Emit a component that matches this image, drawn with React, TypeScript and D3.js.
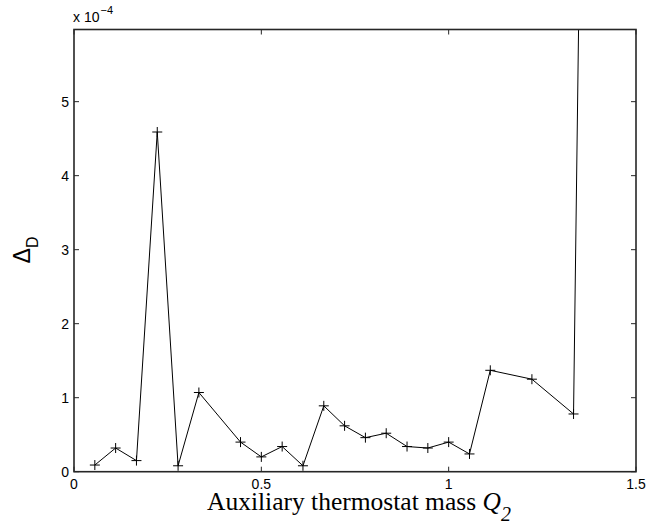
import React from "react";
import * as d3 from "d3";

// Auxiliary thermostat mass Q2
const q2Values = [
  0.0556, 0.1111, 0.1667, 0.2222, 0.2778, 0.3333, 0.4444, 0.5, 0.5556, 0.6111,
  0.6667, 0.7222, 0.7778, 0.8333, 0.8889, 0.9444, 1.0, 1.0556, 1.1111, 1.2222,
  1.3333, 1.4444,
];
// Delta_D in units of 1e-4
const deltaD = [
  0.09, 0.32, 0.15, 4.59, 0.08, 1.07, 0.4, 0.2, 0.34, 0.08,
  0.89, 0.62, 0.46, 0.52, 0.34, 0.32, 0.4, 0.24, 1.37, 1.25,
  0.78, 44,
];
const xTicks = [0, 0.5, 1, 1.5];
const xTickLabels = ["0", "0.5", "1", "1.5"];
const yTicks = [0, 1, 2, 3, 4, 5];
const yTickLabels = ["0", "1", "2", "3", "4", "5"];

const W = 648;
const H = 527;
const left = 74;
const right = 636;
const top = 29.5;
const bottom = 471.7;

export default function App() {
  const x = d3.scaleLinear().domain([0, 1.5]).range([left, right]);
  const y = d3.scaleLinear().domain([0, 5.975]).range([bottom, top]);
  const pts = q2Values.map((q, i) => [q, deltaD[i]] as [number, number]);
  const line = d3
    .line<[number, number]>()
    .x((d) => x(d[0]))
    .y((d) => y(d[1]));
  const tickLen = 5;
  const sans = "'Liberation Sans', Arial, Helvetica, sans-serif";
  const serif = "'Liberation Serif', 'Times New Roman', serif";
  const axisColor = "#262626";
  const m = 5;
  return (
    <svg
      width={W}
      height={H}
      style={{ position: "absolute", left: 0, top: 0, background: "#fff" }}
    >
      <defs>
        <clipPath id="plotclip">
          <rect x={left} y={top} width={right - left} height={bottom - top} />
        </clipPath>
      </defs>
      <rect x={0} y={0} width={W} height={H} fill="#fff" />
      <g clipPath="url(#plotclip)">
        <path d={line(pts) || ""} fill="none" stroke="#000" strokeWidth={1} />
        {pts.map((p, i) => (
          <path
            key={i}
            d={`M${x(p[0]) - m},${y(p[1])}H${x(p[0]) + m}M${x(p[0])},${y(p[1]) - m}V${y(p[1]) + m}`}
            stroke="#000"
            strokeWidth={1}
          />
        ))}
      </g>
      {/* ticks */}
      {xTicks.map((t, i) => (
        <g key={"xt" + i}>
          <line x1={x(t)} x2={x(t)} y1={bottom} y2={bottom - tickLen} stroke={axisColor} strokeWidth={1} />
          <line x1={x(t)} x2={x(t)} y1={top} y2={top + tickLen} stroke={axisColor} strokeWidth={1} />
          <text
            x={x(t)}
            y={489}
            textAnchor="middle"
            fontFamily={sans}
            fontSize={14}
            fill="#000"
          >
            {xTickLabels[i]}
          </text>
        </g>
      ))}
      {yTicks.map((t, i) => (
        <g key={"yt" + i}>
          <line x1={left} x2={left + tickLen} y1={y(t)} y2={y(t)} stroke={axisColor} strokeWidth={1} />
          <line x1={right} x2={right - tickLen} y1={y(t)} y2={y(t)} stroke={axisColor} strokeWidth={1} />
          <text
            x={69}
            y={y(t)}
            dy="0.36em"
            textAnchor="end"
            fontFamily={sans}
            fontSize={14}
            fill="#000"
          >
            {yTickLabels[i]}
          </text>
        </g>
      ))}
      {/* box */}
      <rect
        x={left}
        y={top}
        width={right - left}
        height={bottom - top}
        fill="none"
        stroke={axisColor}
        strokeWidth={1.6}
      />
      {/* exponent */}
      <text x={73} y={22} fontFamily={sans} fontSize={14} fill="#000">
        x 10
        <tspan dx={1} dy={-8} fontSize={11}>
          −4
        </tspan>
      </text>
      {/* x label */}
      <text
        x={207}
        y={510}
        textAnchor="start"
        fontFamily={serif}
        fontSize={25.5}
        fill="#000"
      >
        Auxiliary thermostat mass <tspan fontStyle="italic">Q</tspan>
        <tspan fontStyle="italic" fontSize={20} dy={11}>
          2
        </tspan>
      </text>
      {/* y label */}
      <text
        transform={`translate(30,250) rotate(-90)`}
        textAnchor="middle"
        fontFamily={sans}
        fontSize={23}
        fill="#000"
      >
        Δ
        <tspan fontSize={16} dy={8}>
          D
        </tspan>
      </text>
    </svg>
  );
}
